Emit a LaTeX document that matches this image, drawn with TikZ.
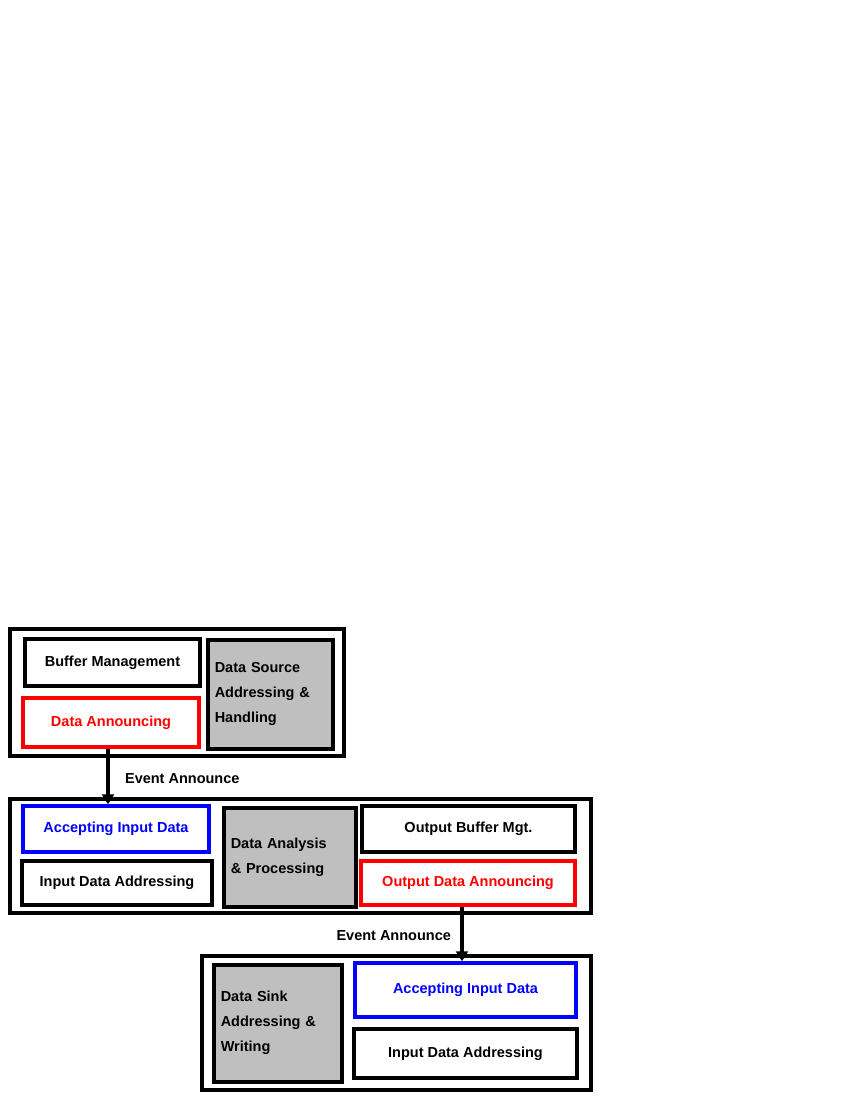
\documentclass[tikz,border=0pt]{standalone}
\usepackage{fontspec}
\setmainfont{Liberation Sans}
\usetikzlibrary{arrows.meta}
\tikzset{every node/.style={font=\bfseries\fontsize{14.5}{25}\selectfont},
  blk/.style={draw=black,line width=3.5pt,inner sep=0pt},
  outer/.style={blk},
  redbox/.style={blk,draw=red,text=red},
  bluebox/.style={blk,draw=blue,text=blue},
  graybox/.style={blk,fill=gray!50,align=left,anchor=north west,text width=#1,inner xsep=7pt,inner ysep=4pt},
  flow/.style={line width=3.5pt,-{Triangle[length=10pt,width=12pt]}}}
\begin{document}
\begin{tikzpicture}[x=1pt,y=-1pt]
  \useasboundingbox (0,0) rectangle (850,1100);
  % first stage
  \node[outer,minimum width=334,minimum height=127] (src) at (177,692.5) {};
  \node[blk,minimum width=175,minimum height=47] (bufA) at (112.5,662.5) {Buffer Management};
  \node[redbox,minimum width=176,minimum height=49] (annA) at (111,722.5) {Data Announcing};
  \node[graybox=111,minimum height=109] (dsrc) at (206,638) {Data Source\\Addressing \&\\Handling};
  % second stage
  \node[outer,minimum width=581,minimum height=114] (proc) at (300.5,856) {};
  \node[bluebox,minimum width=186,minimum height=46] (accB) at (116,829) {Accepting Input Data};
  \node[blk,minimum width=190,minimum height=44] (adrB) at (117,883) {Input Data Addressing};
  \node[graybox=118,minimum height=99] (dana) at (222,806) {Data Analysis\\\& Processing};
  \node[blk,minimum width=213,minimum height=46] (bufB) at (468.5,829) {Output Buffer Mgt.};
  \node[redbox,minimum width=214,minimum height=44] (annB) at (468,883) {Output Data Announcing};
  % third stage
  \node[outer,minimum width=389,minimum height=134] (sink) at (396.5,1023) {};
  \node[graybox=114,minimum height=117] (dsnk) at (212,963) {Data Sink\\Addressing \&\\Writing};
  \node[bluebox,minimum width=221,minimum height=54] (accC) at (465.5,990) {Accepting Input Data};
  \node[blk,minimum width=223,minimum height=49] (adrC) at (465.5,1053.5) {Input Data Addressing};
  % events
  \draw[flow] ([xshift=-3pt]annA.south) -- ([xshift=-3pt]annA.south |- accB.north)
    node[midway,right=12pt,yshift=-2pt] (evA) {Event Announce};
  \draw[flow] ([xshift=-6pt]annB.south) -- ([xshift=-6pt]annB.south |- accC.north)
    node[midway,left=6pt,yshift=-2pt] (evB) {Event Announce};
\end{tikzpicture}
\end{document}
